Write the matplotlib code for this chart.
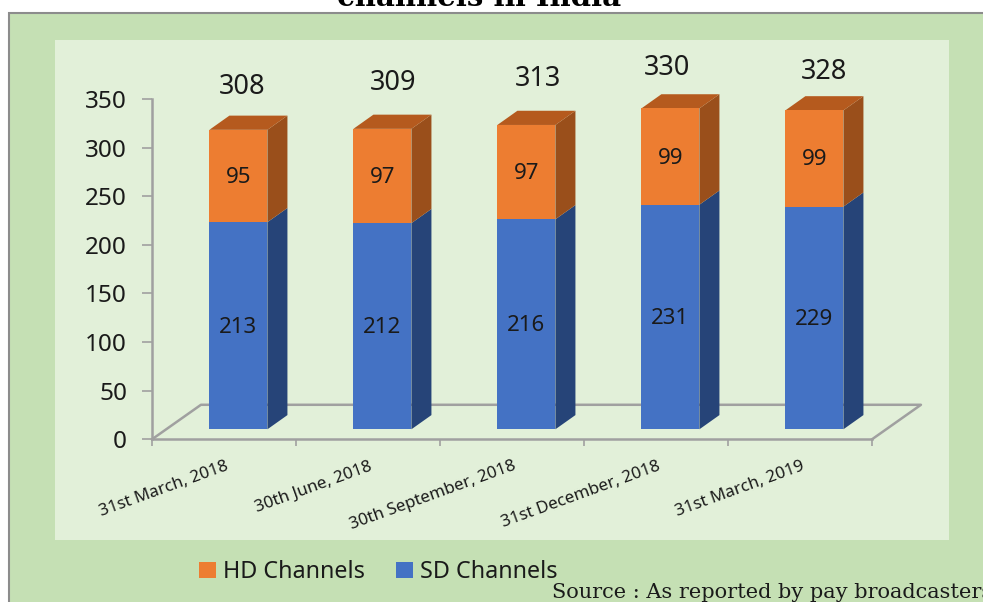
import matplotlib
matplotlib.use('Agg')
import matplotlib.pyplot as plt
from matplotlib.patches import Rectangle, Patch

# Values
categories = ['31st March, 2018', '30th June, 2018', '30th September, 2018',
              '31st December, 2018', '31st March, 2019']
sd_channels = [213, 212, 216, 231, 229]
hd_channels = [95, 97, 97, 99, 99]
totals = [308, 309, 313, 330, 328]
y_ticks = [0, 50, 100, 150, 200, 250, 300, 350]

W, H = 983, 602
GREY = '#A0A0A0'
TEXT = '#1a1a1a'
FONT = 'Noto Sans'

plt.rcParams['font.family'] = FONT
fig = plt.figure(figsize=(W / 100, H / 100), dpi=100, facecolor='white')


# Pixel box (from top left) to figure fraction
def box(x0, y0, x1, y1):
    return [x0 / W, 1 - y1 / H, (x1 - x0) / W, (y1 - y0) / H]


# Slide backgrounds
b = box(8.5, 12.5, 990, 610)
fig.add_artist(Rectangle(b[:2], b[2], b[3], transform=fig.transFigure, fc='#C5E0B4', ec='#8C8C8C', lw=1.5,
                         zorder=-2))
b = box(55, 40, 949, 540)
fig.add_artist(Rectangle(b[:2], b[2], b[3], transform=fig.transFigure, fc='#E2F0D9', ec='none', zorder=-1))

fig.text(479 / W, 1 - 6 / H, 'channels in India', family='DejaVu Serif', weight='bold', fontsize=21,
         ha='center', va='baseline', color='black')

ax = fig.add_axes(box(152, 99, 872, 439.3))
ax.patch.set_alpha(0)
ax.set_xlim(0, 5)
ax.set_ylim(0, 350)

# 3D offsets, in data units
bar_width = 0.403
front_dx, front_dy = 0.10, 10.3   # front of the bars from the axis origin
depth_dx, depth_dy = 0.139, 14.6  # depth of the bars
floor_dx, floor_dy = 0.34, 35.5   # depth of the floor

# Floor
ax.plot([0, floor_dx, 5 + floor_dx, 5], [0, floor_dy, floor_dy, 0], color=GREY, lw=1.8, clip_on=False, zorder=1)

centers = [i + 0.5 + front_dx for i in range(len(categories))]


def side_and_top(x, low, high, side_col, top_col):
    x0, x1 = x - bar_width / 2, x + bar_width / 2
    ax.fill([x1, x1 + depth_dx, x1 + depth_dx, x1], [low, low + depth_dy, high + depth_dy, high],
            color=side_col, lw=0, clip_on=False, zorder=2)
    if top_col:
        ax.fill([x0, x0 + depth_dx, x1 + depth_dx, x1], [high, high + depth_dy, high + depth_dy, high],
                color=top_col, lw=0, clip_on=False, zorder=2)


tops_sd = [front_dy + v for v in sd_channels]
ax.bar(centers, sd_channels, bar_width, bottom=front_dy, color='#4472C4', zorder=3)
ax.bar(centers, hd_channels, bar_width, bottom=tops_sd, color='#ED7D31', zorder=3, clip_on=False)

total_lift = [43, 46, 46, 40, 38]  # px above the bar top
total_shift = [4, 11, 12, -3, 10]  # px right of the bar centre
for i, x in enumerate(centers):
    side_and_top(x, front_dy, tops_sd[i], '#264478', None)
    side_and_top(x, tops_sd[i], tops_sd[i] + hd_channels[i], '#9A4F1B', '#B55A1E')
    ax.text(x, front_dy + sd_channels[i] / 2 - 1.5, str(sd_channels[i]), ha='center', va='center',
            fontsize=16, color=TEXT, zorder=5)
    ax.text(x, tops_sd[i] + hd_channels[i] / 2 - 1.5, str(hd_channels[i]), ha='center', va='center',
            fontsize=16, color=TEXT, zorder=5)
    ax.annotate(str(totals[i]), (x, tops_sd[i] + hd_channels[i]),
                xytext=(total_shift[i] * 0.72, total_lift[i] * 0.72), textcoords='offset points',
                ha='center', va='center', fontsize=19.5, color=TEXT, annotation_clip=False)

# Axes
for s in ['top', 'right']:
    ax.spines[s].set_visible(False)
for s in ['left', 'bottom']:
    ax.spines[s].set_color(GREY)
    ax.spines[s].set_linewidth(1.8)
ax.set_yticks(y_ticks)
ax.tick_params(axis='y', length=7, width=1.2, color=GREY, labelsize=17.5, labelcolor=TEXT, pad=11)
ax.set_xticks(range(6))
ax.tick_params(axis='x', length=5, width=1.2, color=GREY, labelbottom=False)

# Rotated category labels end near the tick of each group
label_x = [0.505, 1.505, 2.505, 3.505, 4.505]
for lx, lab in zip(label_x, categories):
    ax.annotate(lab, (lx, 0), xytext=(0, -13.5), textcoords='offset points', rotation=20, rotation_mode='anchor',
                ha='right', va='top', fontsize=12.2, color=TEXT, annotation_clip=False)

handles = [Patch(fc='#ED7D31', label='HD Channels'), Patch(fc='#4472C4', label='SD Channels')]
fig.legend(handles=handles, loc='center left', bbox_to_anchor=(178 / W, 1 - 572 / H), ncol=2, frameon=False,
           fontsize=16.8, handlelength=0.72, handleheight=0.72, handletextpad=0.3, columnspacing=1.35,
           labelcolor=TEXT)

fig.text(552 / W, 1 - 598 / H, 'Source : As reported by pay broadcasters', family='DejaVu Serif', fontsize=15,
         ha='left', va='baseline', color=TEXT)

fig.savefig('out.png', dpi=100, facecolor='white')
